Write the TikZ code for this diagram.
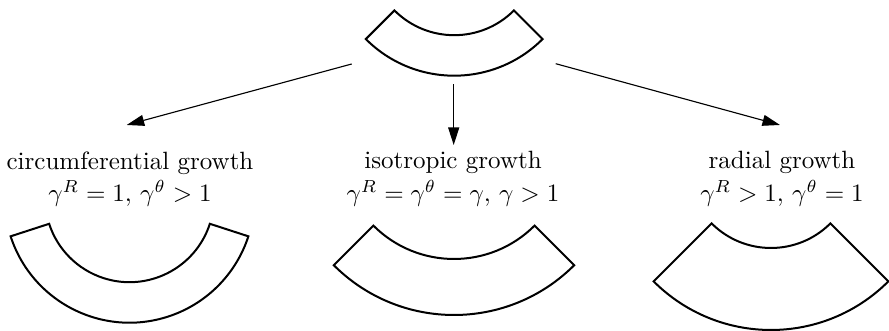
\documentclass[tikz,border=0pt]{standalone}
\usetikzlibrary{arrows.meta,calc}
\begin{document}
\begin{tikzpicture}[x=0.4pt,y=0.4pt,
  sector/.style={line width=0.8pt,line join=miter},
  growth/.style={-{Triangle[length=7pt,width=4.4pt]},line width=0.45pt},
  caption/.style={align=center,inner sep=0pt,anchor=north,font=\normalsize}]
\useasboundingbox (0,0) rectangle (889,331);
% centres of the sectors
\coordinate (c0) at (454.2,380.3);
\coordinate (c1) at (129.5,133.3);
\coordinate (c2) at (454,186);
\coordinate (c3) at (771,167);
% original
\draw[sector] ($(c0)+(225:125)$) arc[start angle=225,end angle=315,radius=125]
  -- ($(c0)+(315:84.5)$) arc[start angle=315,end angle=225,radius=84.5] -- cycle;
% circumferential
\draw[sector] ($(c1)+(198:125)$) arc[start angle=198,end angle=342,radius=125]
  -- ($(c1)+(342:84.5)$) arc[start angle=342,end angle=198,radius=84.5] -- cycle;
% isotropic
\draw[sector] ($(c2)+(225:170)$) arc[start angle=225,end angle=315,radius=170]
  -- ($(c2)+(315:114)$) arc[start angle=315,end angle=225,radius=114] -- cycle;
% radial
\draw[sector] ($(c3)+(225:166)$) arc[start angle=225,end angle=315,radius=166]
  -- ($(c3)+(315:84)$) arc[start angle=315,end angle=225,radius=84] -- cycle;
% captions
\node[caption] (t1) at (130,180) {circumferential growth\\[1pt] $\gamma^R=1,\,\gamma^\theta>1$};
\node[caption] (t2) at (453,180) {isotropic growth\\[1pt] $\gamma^R=\gamma^\theta=\gamma,\,\gamma>1$};
\node[caption] (t3) at (782,180) {radial growth\\[1pt] $\gamma^R>1,\,\gamma^\theta=1$};
% arrows
\coordinate (a1s) at (351.7,267);
\coordinate (a1e) at (126.7,206);
\coordinate (a2s) at (453.7,246.7);
\coordinate (a2e) at (453.7,186);
\coordinate (a3s) at (555.7,267.3);
\coordinate (a3e) at (780,206);
\draw[growth] (a1s) -- (a1e);
\draw[growth] (a2s) -- (a2e);
\draw[growth] (a3s) -- (a3e);
\end{tikzpicture}
\end{document}
